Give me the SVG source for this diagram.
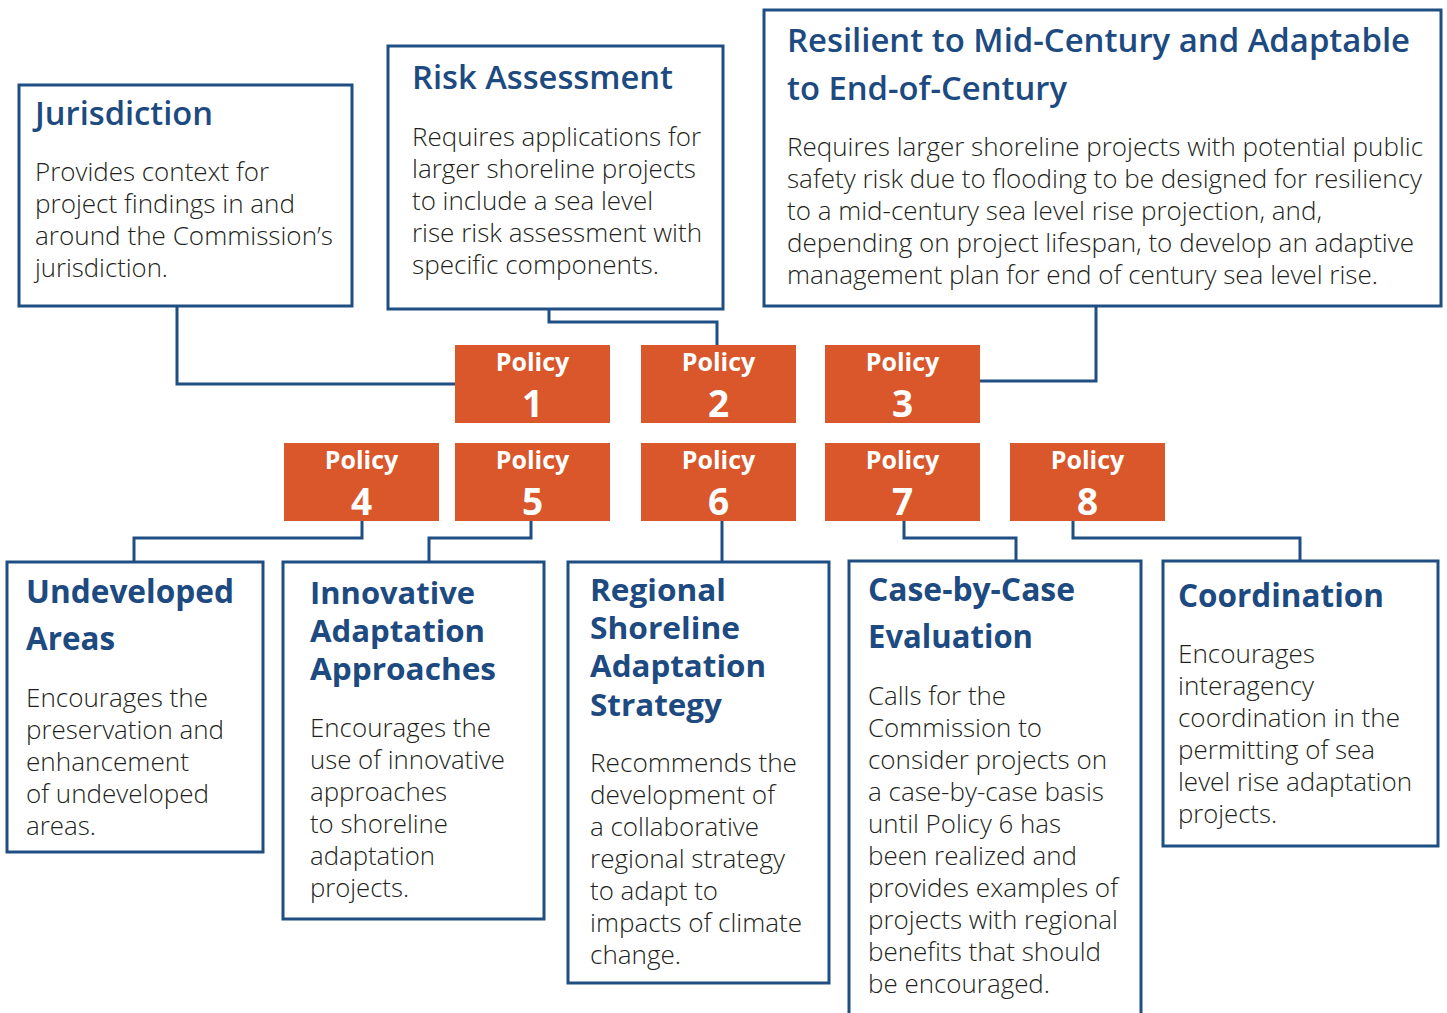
<svg xmlns="http://www.w3.org/2000/svg" width="1447" height="1013" viewBox="0 0 1447 1013">
<style>
.box{fill:#ffffff;stroke:#1f4e82;stroke-width:3}
.pol{fill:#d9572b}
.con{fill:none;stroke:#1f4e82;stroke-width:3}
.t{font-family:"Open Sans","Liberation Sans",sans-serif;font-weight:700;font-size:32px;fill:#1d4a80}
.t3{font-size:30px}
.b{font-family:"Open Sans","Liberation Sans",sans-serif;font-weight:300;font-size:25px;fill:#231f20}
.tc{font-family:"Open Sans","Liberation Sans",sans-serif;font-weight:600;font-size:33px;fill:#1d4a80}
.bc{font-family:"Open Sans","Liberation Sans",sans-serif;font-weight:300;font-size:25px;fill:#231f20}
.pt{font-family:"Open Sans","Liberation Sans",sans-serif;font-weight:700;font-size:25px;fill:#ffffff;text-anchor:middle}
.pn{font-family:"Open Sans","Liberation Sans",sans-serif;font-weight:700;font-size:37px;fill:#ffffff;text-anchor:middle}
</style>
<rect width="1447" height="1013" fill="#ffffff"/>
<g id="connectors">
<polyline class="con" points="177,306 177,384 456,384"/>
<polyline class="con" points="549,309 549,322 717,322 717,345"/>
<polyline class="con" points="1096,306 1096,381 980,381"/>
<polyline class="con" points="362,521 362,538 134,538 134,562"/>
<polyline class="con" points="531,521 531,538 429,538 429,562"/>
<polyline class="con" points="722,521 722,562"/>
<polyline class="con" points="904,521 904,538 1016,538 1016,561"/>
<polyline class="con" points="1073,521 1073,538 1300,538 1300,561"/>
</g>
<g id="jurisdiction">
<rect class="box" x="19" y="85" width="333" height="221"/>
<text class="tc" x="35" y="125" textLength="178" lengthAdjust="spacingAndGlyphs">Jurisdiction</text>
<text class="bc" x="35" y="181" textLength="234" lengthAdjust="spacingAndGlyphs">Provides context for</text>
<text class="bc" x="35" y="213" textLength="260" lengthAdjust="spacingAndGlyphs">project findings in and</text>
<text class="bc" x="35" y="245" textLength="298" lengthAdjust="spacingAndGlyphs">around the Commission’s</text>
<text class="bc" x="35" y="277" textLength="133" lengthAdjust="spacingAndGlyphs">jurisdiction.</text>
</g>
<g id="risk-assessment">
<rect class="box" x="388" y="46" width="335" height="263"/>
<text class="tc" x="412" y="89" textLength="261" lengthAdjust="spacingAndGlyphs">Risk Assessment</text>
<text class="bc" x="412" y="146" textLength="289" lengthAdjust="spacingAndGlyphs">Requires applications for</text>
<text class="bc" x="412" y="178" textLength="284" lengthAdjust="spacingAndGlyphs">larger shoreline projects</text>
<text class="bc" x="412" y="210" textLength="241" lengthAdjust="spacingAndGlyphs">to include a sea level</text>
<text class="bc" x="412" y="242" textLength="290" lengthAdjust="spacingAndGlyphs">rise risk assessment with</text>
<text class="bc" x="412" y="274" textLength="247" lengthAdjust="spacingAndGlyphs">specific components.</text>
</g>
<g id="resilient">
<rect class="box" x="764" y="10" width="677" height="296"/>
<text class="tc" x="787" y="52" textLength="623" lengthAdjust="spacingAndGlyphs">Resilient to Mid-Century and Adaptable</text>
<text class="tc" x="787" y="100" textLength="280" lengthAdjust="spacingAndGlyphs">to End-of-Century</text>
<text class="bc" x="787" y="156" textLength="636" lengthAdjust="spacingAndGlyphs">Requires larger shoreline projects with potential public</text>
<text class="bc" x="787" y="188" textLength="635" lengthAdjust="spacingAndGlyphs">safety risk due to flooding to be designed for resiliency</text>
<text class="bc" x="787" y="220" textLength="535" lengthAdjust="spacingAndGlyphs">to a mid-century sea level rise projection, and,</text>
<text class="bc" x="787" y="252" textLength="627" lengthAdjust="spacingAndGlyphs">depending on project lifespan, to develop an adaptive</text>
<text class="bc" x="787" y="284" textLength="591" lengthAdjust="spacingAndGlyphs">management plan for end of century sea level rise.</text>
</g>
<g id="policy1"><rect class="pol" x="455" y="345" width="155" height="78"/><text class="pt" x="532.5" y="371">Policy</text><text class="pn" x="532.5" y="417">1</text></g>
<g id="policy2"><rect class="pol" x="641" y="345" width="155" height="78"/><text class="pt" x="718.5" y="371">Policy</text><text class="pn" x="718.5" y="417">2</text></g>
<g id="policy3"><rect class="pol" x="825" y="345" width="155" height="78"/><text class="pt" x="902.5" y="371">Policy</text><text class="pn" x="902.5" y="417">3</text></g>
<g id="policy4"><rect class="pol" x="284" y="443" width="155" height="78"/><text class="pt" x="361.5" y="469">Policy</text><text class="pn" x="361.5" y="515">4</text></g>
<g id="policy5"><rect class="pol" x="455" y="443" width="155" height="78"/><text class="pt" x="532.5" y="469">Policy</text><text class="pn" x="532.5" y="515">5</text></g>
<g id="policy6"><rect class="pol" x="641" y="443" width="155" height="78"/><text class="pt" x="718.5" y="469">Policy</text><text class="pn" x="718.5" y="515">6</text></g>
<g id="policy7"><rect class="pol" x="825" y="443" width="155" height="78"/><text class="pt" x="902.5" y="469">Policy</text><text class="pn" x="902.5" y="515">7</text></g>
<g id="policy8"><rect class="pol" x="1010" y="443" width="155" height="78"/><text class="pt" x="1087.5" y="469">Policy</text><text class="pn" x="1087.5" y="515">8</text></g>
<g id="undeveloped">
<rect class="box" x="7" y="562" width="256" height="290"/>
<text class="t" x="26" y="603" textLength="208" lengthAdjust="spacingAndGlyphs">Undeveloped</text>
<text class="t" x="26" y="650" textLength="89" lengthAdjust="spacingAndGlyphs">Areas</text>
<text class="b" x="26" y="707" textLength="182" lengthAdjust="spacingAndGlyphs">Encourages the</text>
<text class="b" x="26" y="739" textLength="198" lengthAdjust="spacingAndGlyphs">preservation and</text>
<text class="b" x="26" y="771" textLength="163" lengthAdjust="spacingAndGlyphs">enhancement</text>
<text class="b" x="26" y="803" textLength="183" lengthAdjust="spacingAndGlyphs">of undeveloped</text>
<text class="b" x="26" y="835" textLength="70" lengthAdjust="spacingAndGlyphs">areas.</text>
</g>
<g id="innovative">
<rect class="box" x="283" y="562" width="261" height="357"/>
<text class="t t3" x="310" y="604" textLength="165" lengthAdjust="spacingAndGlyphs">Innovative</text>
<text class="t t3" x="310" y="642" textLength="175" lengthAdjust="spacingAndGlyphs">Adaptation</text>
<text class="t t3" x="310" y="680" textLength="186" lengthAdjust="spacingAndGlyphs">Approaches</text>
<text class="b" x="310" y="737" textLength="181" lengthAdjust="spacingAndGlyphs">Encourages the</text>
<text class="b" x="310" y="769" textLength="195" lengthAdjust="spacingAndGlyphs">use of innovative</text>
<text class="b" x="310" y="801" textLength="137" lengthAdjust="spacingAndGlyphs">approaches</text>
<text class="b" x="310" y="833" textLength="138" lengthAdjust="spacingAndGlyphs">to shoreline</text>
<text class="b" x="310" y="865" textLength="125" lengthAdjust="spacingAndGlyphs">adaptation</text>
<text class="b" x="310" y="897" textLength="99" lengthAdjust="spacingAndGlyphs">projects.</text>
</g>
<g id="regional">
<rect class="box" x="568" y="562" width="261" height="421"/>
<text class="t t3" x="590" y="601" textLength="136" lengthAdjust="spacingAndGlyphs">Regional</text>
<text class="t t3" x="590" y="639" textLength="150" lengthAdjust="spacingAndGlyphs">Shoreline</text>
<text class="t t3" x="590" y="677" textLength="176" lengthAdjust="spacingAndGlyphs">Adaptation</text>
<text class="t t3" x="590" y="716" textLength="132" lengthAdjust="spacingAndGlyphs">Strategy</text>
<text class="b" x="590" y="772" textLength="207" lengthAdjust="spacingAndGlyphs">Recommends the</text>
<text class="b" x="590" y="804" textLength="185" lengthAdjust="spacingAndGlyphs">development of</text>
<text class="b" x="590" y="836" textLength="169" lengthAdjust="spacingAndGlyphs">a collaborative</text>
<text class="b" x="590" y="868" textLength="195" lengthAdjust="spacingAndGlyphs">regional strategy</text>
<text class="b" x="590" y="900" textLength="128" lengthAdjust="spacingAndGlyphs">to adapt to</text>
<text class="b" x="590" y="932" textLength="212" lengthAdjust="spacingAndGlyphs">impacts of climate</text>
<text class="b" x="590" y="964" textLength="91" lengthAdjust="spacingAndGlyphs">change.</text>
</g>
<g id="case-by-case">
<rect class="box" x="849" y="561" width="292" height="470"/>
<text class="t" x="868" y="601" textLength="207" lengthAdjust="spacingAndGlyphs">Case-by-Case</text>
<text class="t" x="868" y="648" textLength="165" lengthAdjust="spacingAndGlyphs">Evaluation</text>
<text class="b" x="868" y="705" textLength="138" lengthAdjust="spacingAndGlyphs">Calls for the</text>
<text class="b" x="868" y="737" textLength="174" lengthAdjust="spacingAndGlyphs">Commission to</text>
<text class="b" x="868" y="769" textLength="239" lengthAdjust="spacingAndGlyphs">consider projects on</text>
<text class="b" x="868" y="801" textLength="236" lengthAdjust="spacingAndGlyphs">a case-by-case basis</text>
<text class="b" x="868" y="833" textLength="193" lengthAdjust="spacingAndGlyphs">until Policy 6 has</text>
<text class="b" x="868" y="865" textLength="209" lengthAdjust="spacingAndGlyphs">been realized and</text>
<text class="b" x="868" y="897" textLength="250" lengthAdjust="spacingAndGlyphs">provides examples of</text>
<text class="b" x="868" y="929" textLength="250" lengthAdjust="spacingAndGlyphs">projects with regional</text>
<text class="b" x="868" y="961" textLength="233" lengthAdjust="spacingAndGlyphs">benefits that should</text>
<text class="b" x="868" y="993" textLength="182" lengthAdjust="spacingAndGlyphs">be encouraged.</text>
</g>
<g id="coordination">
<rect class="box" x="1163" y="561" width="275" height="285"/>
<text class="t" x="1178" y="607" textLength="206" lengthAdjust="spacingAndGlyphs">Coordination</text>
<text class="b" x="1178" y="663" textLength="137" lengthAdjust="spacingAndGlyphs">Encourages</text>
<text class="b" x="1178" y="695" textLength="136" lengthAdjust="spacingAndGlyphs">interagency</text>
<text class="b" x="1178" y="727" textLength="222" lengthAdjust="spacingAndGlyphs">coordination in the</text>
<text class="b" x="1178" y="759" textLength="197" lengthAdjust="spacingAndGlyphs">permitting of sea</text>
<text class="b" x="1178" y="791" textLength="234" lengthAdjust="spacingAndGlyphs">level rise adaptation</text>
<text class="b" x="1178" y="823" textLength="99" lengthAdjust="spacingAndGlyphs">projects.</text>
</g>
</svg>
